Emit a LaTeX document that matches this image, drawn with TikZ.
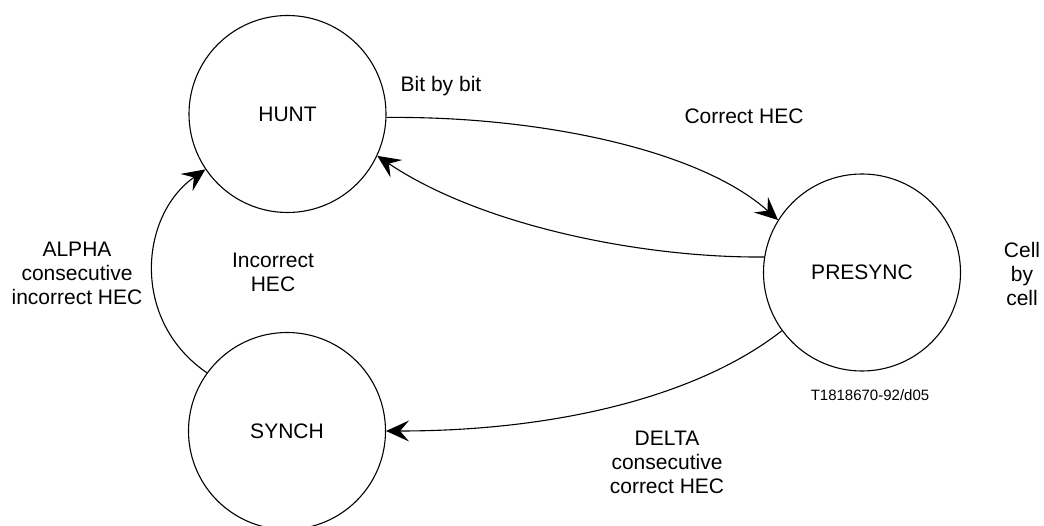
\documentclass[tikz,border=0pt]{standalone}
\usepackage{fontspec}
\setmainfont{Liberation Sans}
\usetikzlibrary{arrows.meta}
\begin{document}
\begin{tikzpicture}[x=1pt,y=-1pt,
  state/.style={draw,circle,minimum size=197pt,inner sep=0pt,line width=1.1pt,font=\fontsize{21}{24}\selectfont},
  lbl/.style={align=center,font=\fontsize{21}{24}\selectfont,inner sep=0pt},
  small/.style={font=\fontsize{15}{18}\selectfont,inner sep=0pt},
  trans/.style={line width=1.1pt,-{Stealth[length=23pt,width=21pt,inset=9pt]}}]
\useasboundingbox (0,0) rectangle (1044,526);
\node[state] (hunt) at (287.5,114) {HUNT};
\node[state] (presync) at (862,272.5) {PRESYNC};
\node[state] (synch) at (287,431) {SYNCH};

\draw[trans] (hunt.-2) .. controls (540,116) and (700,150) .. (presync.148);
\draw[trans] (presync.171.5) .. controls (640,258) and (480,225) .. (hunt.-25);
\draw[trans] (presync.216) .. controls (700,395) and (560,431) .. (synch.0);
\draw[trans] (synch.144) .. controls (130,320) and (140,215) .. (hunt.214);

\node[lbl] (bit) at (441,86) {Bit by bit};
\node[lbl] (corr) at (744,116) {Correct HEC};
\node[lbl] (cell) at (1022,274) {Cell\\by\\cell};
\node[lbl] (incorr) at (273,272) {Incorrect\\HEC};
\node[lbl] (alpha) at (77,273) {ALPHA\\consecutive\\incorrect HEC};
\node[lbl] (delta) at (667,462) {DELTA\\consecutive\\correct HEC};
\node[small] (code) at (870,395) {T1818670-92/d05};
\end{tikzpicture}
\end{document}
